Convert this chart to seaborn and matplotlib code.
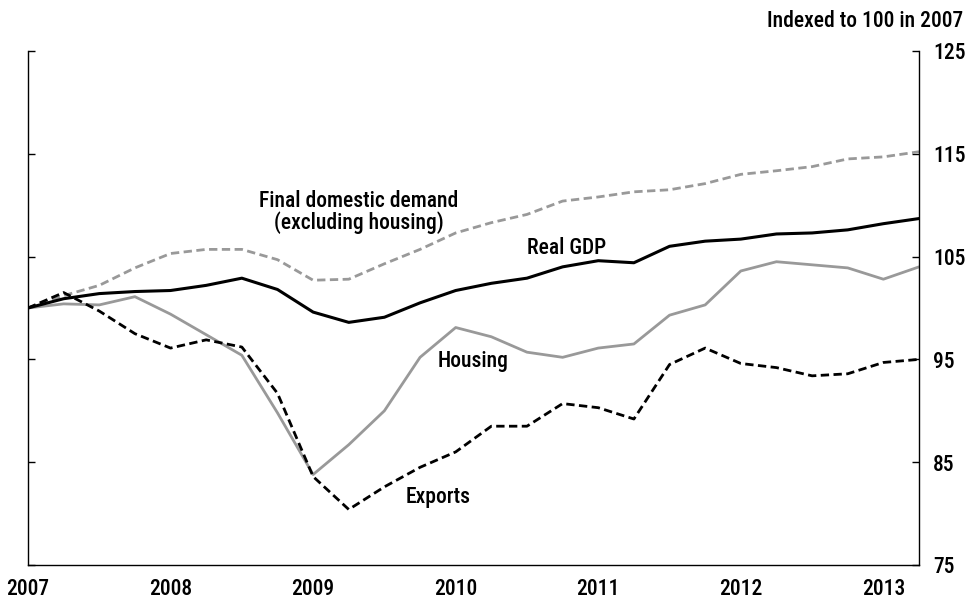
import numpy as np
import pandas as pd
import matplotlib
matplotlib.use("Agg")
import matplotlib.pyplot as plt
import seaborn as sns

# quarterly index, 2007Q1 = 100
quarters = [2007 + 0.25 * i for i in range(26)]

real_gdp = [100.0, 100.9, 101.4, 101.6, 101.7, 102.2, 102.9, 101.8, 99.6, 98.6,
            99.1, 100.5, 101.7, 102.4, 102.9, 104.0, 104.6, 104.4, 106.0, 106.5,
            106.7, 107.2, 107.3, 107.6, 108.2, 108.7]
final_demand = [100.0, 101.2, 102.2, 103.9, 105.3, 105.7, 105.7, 104.7, 102.7, 102.8,
                104.3, 105.7, 107.3, 108.3, 109.1, 110.4, 110.8, 111.3, 111.5, 112.1,
                113.0, 113.35, 113.75, 114.5, 114.7, 115.2]
housing = [100.0, 100.4, 100.3, 101.1, 99.4, 97.4, 95.4, 89.8, 83.8, 86.7,
           90.0, 95.2, 98.1, 97.2, 95.7, 95.2, 96.1, 96.5, 99.3, 100.3,
           103.6, 104.5, 104.2, 103.9, 102.8, 104.0]
exports = [100.0, 101.5, 99.7, 97.5, 96.1, 96.9, 96.2, 91.7, 83.6, 80.4,
           82.6, 84.5, 86.0, 88.5, 88.5, 90.7, 90.3, 89.2, 94.5, 96.1,
           94.6, 94.2, 93.4, 93.6, 94.7, 95.0]

year_ticks = [2007, 2008, 2009, 2010, 2011, 2012, 2013]
y_ticks = [75, 85, 95, 105, 115, 125]

sns.set_style("white")
plt.rcParams['font.family'] = ['Roboto Condensed', 'Archivo Narrow', 'Roboto', 'DejaVu Sans']
plt.rcParams['font.weight'] = 'medium'
plt.rcParams['text.color'] = 'black'
plt.rcParams['xtick.color'] = 'black'
plt.rcParams['ytick.color'] = 'black'

fig = plt.figure(figsize=(9.72, 6.02), dpi=100)
ax = fig.add_axes([0.0288, 0.0615, 0.9167, 0.8538])

GREY = "#999999"
sns.lineplot(x=quarters, y=final_demand, color=GREY, lw=2.0, linestyle=(0, (3, 1.6)), ax=ax)
sns.lineplot(x=quarters, y=housing, color=GREY, lw=2.0, ax=ax)
sns.lineplot(x=quarters, y=exports, color="black", lw=2.0, linestyle=(0, (3, 1.6)), ax=ax)
sns.lineplot(x=quarters, y=real_gdp, color="black", lw=2.2, ax=ax)

ax.set_xlim(2007, 2013.25)
ax.set_ylim(75, 125)
ax.set_xticks(year_ticks)
ax.set_xticklabels([str(y) for y in year_ticks])
ax.set_yticks(y_ticks)

for s in ["left", "right", "bottom"]:
    ax.spines[s].set_visible(True)
    ax.spines[s].set_color("black")
    ax.spines[s].set_linewidth(1.0)
ax.spines["top"].set_visible(False)

ax.tick_params(axis="x", direction="in", length=5, width=1,
               labelsize=15.5, pad=9.5)
ax.tick_params(axis="y", direction="in", length=5, width=1,
               left=True, right=True, labelleft=False, labelright=True,
               labelsize=15.5, pad=10)

# series labels (baseline positions in data units)
lab = dict(fontsize=15.5, ha="center", va="baseline")
ax.text(2009.32, 109.8, "Final domestic demand", **lab)
ax.text(2009.32, 107.7, "(excluding housing)", **lab)
ax.text(2010.78, 105.25, "Real GDP", **lab)
ax.text(2010.125, 94.29, "Housing", **lab)
ax.text(2009.875, 81.0, "Exports", **lab)

fig.text(0.991, 0.9557, "Indexed to 100 in 2007", ha="right", va="baseline", fontsize=15.5)

fig.savefig("out.png", dpi=100, facecolor="white")
